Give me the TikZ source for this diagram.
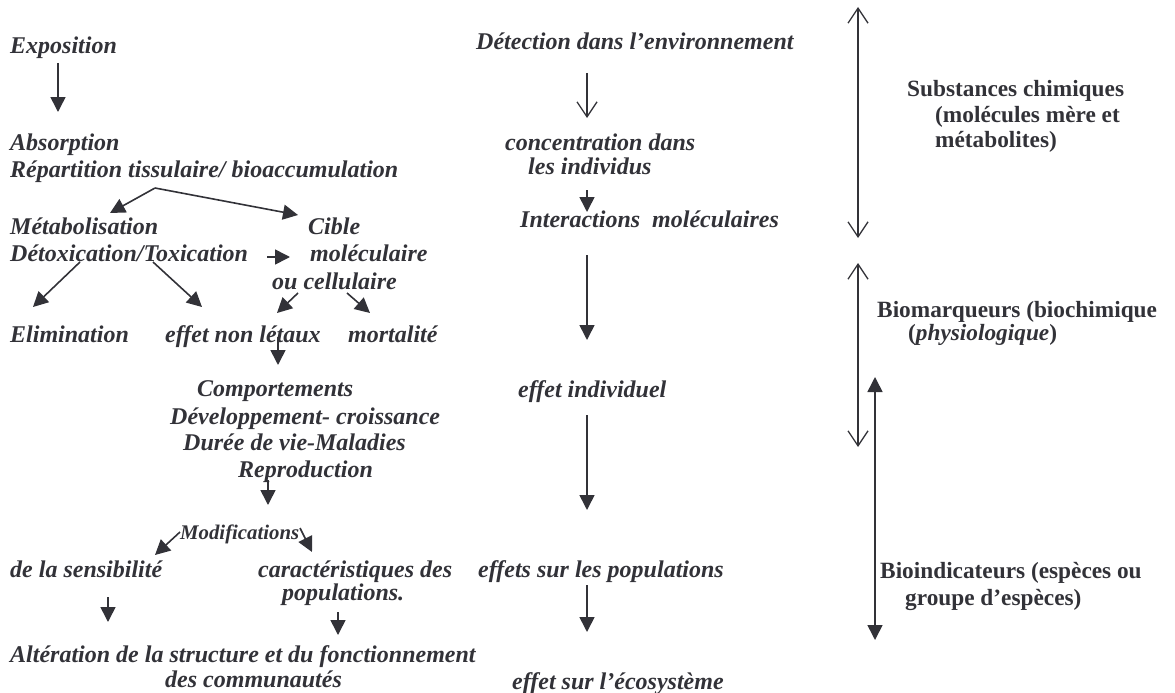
\documentclass[tikz,border=0pt]{standalone}
\usepackage{fontspec}
\setmainfont{Liberation Serif}
\usetikzlibrary{arrows.meta}
\definecolor{ink}{RGB}{50,50,56}
\begin{document}
\begin{tikzpicture}[x=1pt,y=-1pt,
  txt/.style={anchor=base west,inner sep=0pt,text=ink,font=\fontsize{24}{28}\selectfont\bfseries\itshape},
  txtsmall/.style={anchor=base west,inner sep=0pt,text=ink,font=\fontsize{20.8}{24}\selectfont\bfseries\itshape},
  txtup/.style={anchor=base west,inner sep=0pt,text=ink,font=\fontsize{23.3}{27}\selectfont\bfseries},
  fa/.style={draw=ink,line width=1.6pt,-{Triangle[width=15pt,length=15pt]}},
  oa/.style={draw=ink,line width=1.3pt,-{Straight Barb[width=20pt,length=15pt]}},
  oab/.style={draw=ink,line width=1.3pt,{Straight Barb[width=20pt,length=15pt]}-{Straight Barb[width=20pt,length=15pt]}},
  fab/.style={draw=ink,line width=1.6pt,{Triangle[width=15pt,length=15pt]}-{Triangle[width=15pt,length=15pt]}}]
\useasboundingbox (0,0) rectangle (1175,693);

% left column
\node[txt] (expo) at (10,54) {Exposition};
\node[txt] (abs) at (10,150) {Absorption};
\node[txt] (rep) at (10,177) {Répartition tissulaire/ bioaccumulation};
\node[txt] (meta) at (10,234) {Métabolisation};
\node[txt] (cible) at (308,234) {Cible};
\node[txt] (detox) at (10,261) {Détoxication/Toxication};
\node[txt] (molec) at (310,261) {moléculaire};
\node[txt] (cell) at (272,289) {ou cellulaire};
\node[txt] (elim) at (10,342) {Elimination};
\node[txt] (nonlet) at (165,342) {effet non létaux};
\node[txt] (mort) at (348,342) {mortalité};
\node[txt] (comp) at (197,396) {Comportements};
\node[txt] (dev) at (170,424) {Développement- croissance};
\node[txt] (duree) at (183,450) {Durée de vie-Maladies};
\node[txt] (repro) at (238,477) {Reproduction};
\node[txtsmall] (modif) at (180,539) {Modifications};
\node[txt] (sens) at (10,577) {de la sensibilité};
\node[txt] (carac) at (258,577) {caractéristiques des};
\node[txt] (popu) at (282,600) {populations.};
\node[txt] (alter) at (10,662) {Altération de la structure et du fonctionnement};
\node[txt] (commu) at (165,687) {des communautés};

% middle column
\node[txt] (detect) at (476,50) {Détection dans l’environnement};
\node[txt] (conc) at (505,150) {concentration dans};
\node[txt] (indiv) at (528,174) {les individus};
\node[txt] (inter) at (520,227) {Interactions\ \ moléculaires};
\node[txt] (effind) at (518,397) {effet individuel};
\node[txt] (effpop) at (478,577) {effets sur les populations};
\node[txt] (effeco) at (512,689) {effet sur l’écosystème};

% right column
\node[txtup] (subst) at (907,96) {Substances chimiques};
\node[txtup] (molmere) at (935,122) {(molécules mère et};
\node[txtup] (metab) at (935,147) {métabolites)};
\node[txtup] (biom) at (877,317) {Biomarqueurs (biochimique};
\node[txtup] (physio) at (908,340) {(\textit{physiologique})};
\node[txtup] (bioind) at (880,578) {Bioindicateurs (espèces ou};
\node[txtup] (groupe) at (905,605) {groupe d’espèces)};

% arrow end points
\coordinate (a1s) at (58,63);   \coordinate (a1e) at (58,112);
\coordinate (fk) at (155,188);  \coordinate (fkl) at (110,213); \coordinate (fkr) at (298,215);
\coordinate (tcs) at (267,257); \coordinate (tce) at (290,257);
\coordinate (dls) at (80,262);  \coordinate (dle) at (33,307);
\coordinate (drs) at (153,262); \coordinate (dre) at (202,307);
\coordinate (cls) at (298,293); \coordinate (cle) at (277,313);
\coordinate (crs) at (347,293); \coordinate (cre) at (370,313);
\coordinate (nls) at (278,337); \coordinate (nle) at (278,365);
\coordinate (rps) at (268,480); \coordinate (rpe) at (268,505);
\coordinate (mls) at (180,532); \coordinate (mle) at (155,555);
\coordinate (mrs) at (300,528); \coordinate (mre) at (312,552);
\coordinate (sns) at (108,597); \coordinate (sne) at (108,622);
\coordinate (pps) at (338,612); \coordinate (ppe) at (338,635);
\coordinate (m1s) at (587,73);  \coordinate (m1e) at (587,118);
\coordinate (m2s) at (587,190); \coordinate (m2e) at (587,212);
\coordinate (m3s) at (587,255); \coordinate (m3e) at (587,340);
\coordinate (m4s) at (587,415); \coordinate (m4e) at (587,510);
\coordinate (m5s) at (587,585); \coordinate (m5e) at (587,632);
\coordinate (r1s) at (858,7);   \coordinate (r1e) at (858,238);
\coordinate (r2s) at (858,263); \coordinate (r2e) at (858,447);
\coordinate (r3s) at (875,377); \coordinate (r3e) at (875,640);

% left arrows
\draw[fa] (a1s) -- (a1e);
\draw[fa] (fk) -- (fkl);
\draw[fa] (fk) -- (fkr);
\draw[fa] (tcs) -- (tce);
\draw[fa] (dls) -- (dle);
\draw[fa] (drs) -- (dre);
\draw[fa] (cls) -- (cle);
\draw[fa] (crs) -- (cre);
\draw[fa] (nls) -- (nle);
\draw[fa] (rps) -- (rpe);
\draw[fa] (mls) -- (mle);
\draw[fa] (mrs) -- (mre);
\draw[fa] (sns) -- (sne);
\draw[fa] (pps) -- (ppe);
% middle arrows
\draw[oa] (m1s) -- (m1e);
\draw[fa] (m2s) -- (m2e);
\draw[fa] (m3s) -- (m3e);
\draw[fa] (m4s) -- (m4e);
\draw[fa] (m5s) -- (m5e);
% right arrows
\draw[oab] (r1s) -- (r1e);
\draw[oab] (r2s) -- (r2e);
\draw[fab] (r3s) -- (r3e);
\end{tikzpicture}
\end{document}
